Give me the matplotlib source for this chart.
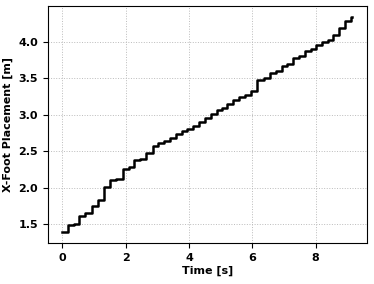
import matplotlib
matplotlib.use("Agg")
import matplotlib.pyplot as plt

# step times [s] and foot placement values [m]
times = [0.0, 0.17, 0.36, 0.54, 0.73, 0.93, 1.14, 1.32, 1.51, 1.70,
         1.90, 2.09, 2.27, 2.46, 2.64, 2.85, 3.03, 3.22, 3.41, 3.59,
         3.78, 3.95, 4.14, 4.32, 4.50, 4.69, 4.87, 5.03, 5.21, 5.39,
         5.58, 5.77, 5.95, 6.16, 6.37, 6.55, 6.74, 6.93, 7.11, 7.29,
         7.48, 7.67, 7.85, 8.02, 8.21, 8.39, 8.56, 8.74, 8.92, 9.11, 9.16]
x_foot = [1.387, 1.486, 1.504, 1.616, 1.654, 1.742, 1.828, 2.005, 2.105, 2.124,
          2.251, 2.279, 2.378, 2.388, 2.470, 2.575, 2.611, 2.643, 2.675, 2.739,
          2.775, 2.807, 2.848, 2.893, 2.952, 3.007, 3.057, 3.094, 3.149, 3.194,
          3.238, 3.265, 3.321, 3.481, 3.504, 3.577, 3.604, 3.665, 3.699, 3.777,
          3.805, 3.867, 3.898, 3.959, 3.996, 4.027, 4.096, 4.187, 4.277, 4.342, 4.342]

fig = plt.figure(figsize=(3.74, 2.84), dpi=100)
ax = fig.add_axes([0.128, 0.144, 0.853, 0.835])

ax.plot(times, x_foot, color="black", linewidth=1.8, drawstyle="steps-post")

ax.grid(True, color="#bbbbbb", linestyle=":", linewidth=0.7)
ax.set_xlabel("Time [s]", fontsize=8, fontweight="bold", labelpad=2)
ax.set_ylabel("X-Foot Placement [m]", fontsize=8, fontweight="bold", labelpad=4)
ax.set_xticks([0, 2, 4, 6, 8])
ax.set_yticks([1.5, 2.0, 2.5, 3.0, 3.5, 4.0])
for lab in ax.get_xticklabels() + ax.get_yticklabels():
    lab.set_fontweight("bold")
    lab.set_fontsize(8)

fig.savefig("out.png", dpi=100)
